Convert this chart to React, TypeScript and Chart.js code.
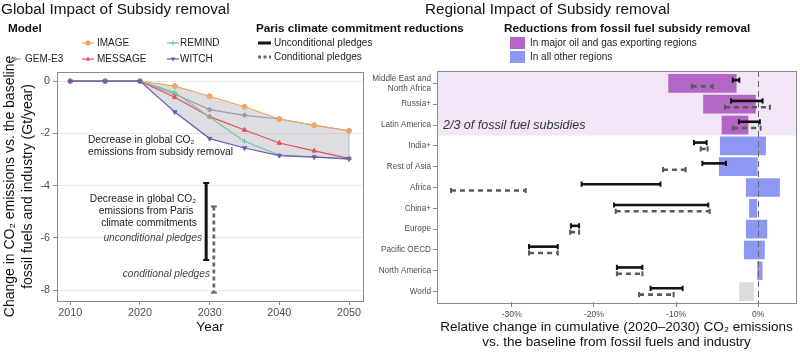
import React, { useEffect, useRef } from "react";
import { Chart, registerables } from "chart.js";
Chart.register(...registerables);

const FONT = "'Liberation Sans', Arial, Helvetica, sans-serif";

// ---------- Left panel data ----------
const years = [2010, 2015, 2020, 2025, 2030, 2035, 2040, 2045, 2050];
const gemE3 = [0, 0, 0, -0.5, -1.09, -1.31, -1.45, -1.69, -1.9];
const image = [0, 0, 0, -0.19, -0.58, -0.98, -1.45, -1.69, -1.9];
const message = [0, 0, 0, -0.62, -1.36, -1.87, -2.37, -2.67, -2.96];
const remind = [0, 0, 0, -0.43, -1.38, -2.3, -2.83, -2.9, -3.0];
const witch = [0, 0, 0, -1.18, -2.2, -2.56, -2.85, -2.91, -2.97];
const yearTicks = [2010, 2020, 2030, 2040, 2050];
const changeTicks = [0, -2, -4, -6, -8];
const pledgeYearUncond = 2029.5;
const pledgeUncond = [-3.9, -6.85];
const pledgeYearCond = 2030.6;
const pledgeCond = [-4.8, -8.1];

// ---------- Right panel data ----------
const regions = [
  ["Middle East and", "North Africa"],
  "Russia+",
  "Latin America",
  "India+",
  "Rest of Asia",
  "Africa",
  "China+",
  "Europe",
  "Pacific OECD",
  "North America",
  "World",
];
const regionGroup = ["oil", "oil", "oil", "other", "other", "other", "other", "other", "other", "other", "world"];
const subsidyLow = [-10.95, -6.7, -4.45, -4.66, -4.78, -1.5, -1.1, -1.5, -1.74, -0.12, -2.3];
const subsidyHigh = [-2.63, -0.3, -1.2, 0.94, 0, 2.64, -0.12, 1.1, 0.8, 0.53, -0.52];
const uncondLow = [-3.1, -3.3, -2.35, -7.82, -6.8, -21.5, -17.55, -22.8, -27.9, -17.2, -13.1];
const uncondHigh = [-2.3, 0.53, 0.2, -6.28, -3.93, -11.9, -6.08, -21.8, -24.4, -14.1, -9.2];
const condLow = [-8.1, -4.05, -3.05, -7.0, -11.6, -37.4, -17.35, -22.9, -27.9, -17.2, -14.5];
const condHigh = [-5.55, 1.42, 0.3, -6.16, -8.83, -28.3, -5.9, -21.8, -24.4, -14.1, -10.3];
const pctTicks = [-30, -20, -10, 0];

const PURPLE = "#b466c6";
const BLUE = "#8c98f4";
const GREYBAR = "#dcdcdc";
const BAND = "#f2e5f5";
const TICKCOL = "#4d4d4d";
const AXISCOL = "#8a8a8a";

const models = [
  { label: "GEM-E3", data: gemE3, color: "#a0a0a0", style: "rectRot", rot: 0, lx: 15, ly: 59 },
  { label: "IMAGE", data: image, color: "#f0a660", style: "circle", rot: 0, lx: 88, ly: 43 },
  { label: "MESSAGE", data: message, color: "#e4505a", style: "triangle", rot: 0, lx: 88, ly: 59 },
  { label: "REMIND", data: remind, color: "#74c4a6", style: "cross", rot: 0, lx: 173, ly: 43 },
  { label: "WITCH", data: witch, color: "#6a5db4", style: "triangle", rot: 180, lx: 173, ly: 59 },
];

function txt(ctx: CanvasRenderingContext2D, s: string, x: number, y: number, size: number, o: any = {}) {
  ctx.save();
  ctx.font = `${o.style || "normal"} ${o.weight || "normal"} ${size}px ${FONT}`;
  ctx.fillStyle = o.color || "#1a1a1a";
  ctx.textAlign = o.align || "left";
  ctx.textBaseline = "middle";
  ctx.fillText(s, x, y);
  ctx.restore();
}

function marker(ctx: CanvasRenderingContext2D, style: string, rot: number, x: number, y: number, r: number, color: string) {
  ctx.save();
  ctx.fillStyle = color;
  ctx.strokeStyle = color;
  ctx.lineWidth = 1;
  ctx.translate(x, y);
  ctx.rotate((rot * Math.PI) / 180);
  ctx.beginPath();
  if (style === "circle") {
    ctx.arc(0, 0, r, 0, Math.PI * 2);
    ctx.fill();
  } else if (style === "rectRot") {
    ctx.moveTo(0, -r);
    ctx.lineTo(r, 0);
    ctx.lineTo(0, r);
    ctx.lineTo(-r, 0);
    ctx.closePath();
    ctx.fill();
  } else if (style === "triangle") {
    ctx.moveTo(0, -r);
    ctx.lineTo(r * 0.9, r * 0.6);
    ctx.lineTo(-r * 0.9, r * 0.6);
    ctx.closePath();
    ctx.fill();
  } else if (style === "cross") {
    ctx.moveTo(-r, 0);
    ctx.lineTo(r, 0);
    ctx.moveTo(0, -r);
    ctx.lineTo(0, r);
    ctx.stroke();
  }
  ctx.restore();
}

function hline(ctx: CanvasRenderingContext2D, x1: number, x2: number, y: number, color: string, w: number, dash: number[] = []) {
  ctx.save();
  ctx.strokeStyle = color;
  ctx.lineWidth = w;
  ctx.setLineDash(dash);
  ctx.beginPath();
  ctx.moveTo(x1, y);
  ctx.lineTo(x2, y);
  ctx.stroke();
  ctx.restore();
}

const leftPlugin = {
  id: "leftDecor",
  afterDraw(chart: any) {
    const ctx = chart.ctx as CanvasRenderingContext2D;
    const a = chart.chartArea;
    const xs = chart.scales.x;
    const ys = chart.scales.y;
    // closing edge of the shaded envelope at 2050
    ctx.save();
    ctx.strokeStyle = "rgba(150,150,160,0.6)";
    ctx.lineWidth = 1;
    const x50 = xs.getPixelForValue(years[years.length - 1]);
    ctx.beginPath();
    ctx.moveTo(x50, ys.getPixelForValue(image[image.length - 1]));
    ctx.lineTo(x50, ys.getPixelForValue(witch[witch.length - 1]));
    ctx.stroke();
    ctx.restore();
    // plot border
    ctx.save();
    ctx.strokeStyle = AXISCOL;
    ctx.lineWidth = 1;
    ctx.strokeRect(Math.round(a.left) + 0.5, Math.round(a.top) + 0.5, Math.round(a.right - a.left), Math.round(a.bottom - a.top));
    ctx.restore();
    // annotations
    const an = 10.2;
    txt(ctx, "Decrease in global CO₂", 88, 140, an);
    txt(ctx, "emissions from subsidy removal", 88, 152, an);
    txt(ctx, "Decrease in global CO₂", 143, 199, an, { align: "center" });
    txt(ctx, "emissions from Paris", 146, 211, an, { align: "center" });
    txt(ctx, "climate commitments", 149, 223, an, { align: "center" });
    txt(ctx, "unconditional pledges", 202, 238, an, { align: "right", style: "italic", color: "#444" });
    txt(ctx, "conditional pledges", 210, 274, an, { align: "right", style: "italic", color: "#444" });
    // title
    txt(ctx, "Global Impact of Subsidy removal", 1, 10, 15.3, { color: "#111" });
    // model legend
    txt(ctx, "Model", 8, 29, 11.7, { weight: "bold", color: "#111" });
    models.forEach((m) => {
      hline(ctx, m.lx - 6, m.lx + 6, m.ly, m.color, 1.2);
      marker(ctx, m.style, m.rot, m.lx, m.ly, 2.6, m.color);
      txt(ctx, m.label, m.lx + (m.lx < 50 ? 10 : m.lx < 120 ? 9 : 7), m.ly, 10, { color: "#222" });
    });
    // paris legend
    txt(ctx, "Paris climate commitment reductions", 256, 29, 11.7, { weight: "bold", color: "#111" });
    hline(ctx, 258, 271, 43, "#111", 3);
    txt(ctx, "Unconditional pledges", 274, 43, 10, { color: "#222" });
    hline(ctx, 258, 271, 57, "#666", 3, [3, 2.5]);
    txt(ctx, "Conditional pledges", 274, 57, 10, { color: "#222" });
  },
};

const BOX_EXTRA_TOP = 2;
const BOX_EXTRA_BOTTOM = 1;

const rightPlugin = {
  id: "rightDecor",
  beforeDatasetsDraw(chart: any) {
    const ctx = chart.ctx as CanvasRenderingContext2D;
    const a = chart.chartArea;
    const ys = chart.scales.y;
    const boundary = (ys.getPixelForValue(2) + ys.getPixelForValue(3)) / 2;
    ctx.save();
    ctx.fillStyle = BAND;
    ctx.fillRect(a.left, a.top - BOX_EXTRA_TOP, a.right - a.left, boundary - a.top + BOX_EXTRA_TOP);
    ctx.restore();
    txt(ctx, "2/3 of fossil fuel subsidies", 443, ys.getPixelForValue(2), 12.5, { style: "italic", color: "#333" });
  },
  afterDatasetsDraw(chart: any) {
    const ctx = chart.ctx as CanvasRenderingContext2D;
    const a = chart.chartArea;
    const xs = chart.scales.x;
    const ys = chart.scales.y;
    const top = a.top - BOX_EXTRA_TOP;
    const bottom = a.bottom + BOX_EXTRA_BOTTOM;
    // zero line
    const x0 = Math.round(xs.getPixelForValue(0)) + 0.5;
    ctx.save();
    ctx.strokeStyle = "#666";
    ctx.lineWidth = 1;
    ctx.setLineDash([6, 4]);
    ctx.beginPath();
    ctx.moveTo(x0, top);
    ctx.lineTo(x0, bottom);
    ctx.stroke();
    ctx.restore();
    // error bars
    const drawBar = (lo: number, hi: number, y: number, color: string, dash: number[]) => {
      const x1 = xs.getPixelForValue(lo);
      const x2 = xs.getPixelForValue(hi);
      hline(ctx, x1, x2, y, color, 2.6, dash);
      ctx.save();
      ctx.strokeStyle = color;
      ctx.lineWidth = 2;
      ctx.beginPath();
      ctx.moveTo(x1, y - 2.6);
      ctx.lineTo(x1, y + 2.6);
      ctx.moveTo(x2, y - 2.6);
      ctx.lineTo(x2, y + 2.6);
      ctx.stroke();
      ctx.restore();
    };
    regions.forEach((_, i) => {
      const yc = ys.getPixelForValue(i);
      drawBar(uncondLow[i], uncondHigh[i], yc - 3.3, "#111", []);
      drawBar(condLow[i], condHigh[i], yc + 3, "#5a5a5a", [5, 4]);
    });
    // border
    ctx.save();
    ctx.strokeStyle = AXISCOL;
    ctx.lineWidth = 1;
    ctx.strokeRect(Math.round(a.left) + 0.5, Math.round(top) + 0.5, Math.round(a.right - a.left), Math.round(bottom - top));
    ctx.restore();
  },
  afterDraw(chart: any) {
    const ctx = chart.ctx as CanvasRenderingContext2D;
    txt(ctx, "Regional Impact of Subsidy removal", 425, 10, 15.3, { color: "#111" });
    txt(ctx, "Reductions from fossil fuel subsidy removal", 504, 29, 11.7, { weight: "bold", color: "#111" });
    ctx.save();
    ctx.fillStyle = PURPLE;
    ctx.fillRect(510, 37, 15, 12);
    ctx.fillStyle = BLUE;
    ctx.fillRect(510, 51, 15, 12);
    ctx.restore();
    txt(ctx, "In major oil and gas exporting regions", 530, 43, 10, { color: "#222" });
    txt(ctx, "In all other regions", 530, 57, 10, { color: "#222" });
  },
};

function leftConfig(): any {
  const imageIdx = 1;
  const witchIdx = 4;
  const lineSets = models.map((m, i) => ({
    type: "line",
    label: m.label,
    data: years.map((y, j) => ({ x: y, y: m.data[j] })),
    borderColor: m.color,
    backgroundColor: i === imageIdx ? "rgba(150,150,165,0.32)" : m.color,
    pointBackgroundColor: m.color,
    pointBorderColor: m.color,
    borderWidth: 1.2,
    pointStyle: m.style,
    pointRotation: m.rot,
    pointRadius: 2.5,
    pointBorderWidth: 1,
    fill: i === imageIdx ? { target: witchIdx } : false,
    order: 5 - i,
  }));
  const pledgeSets = [
    {
      type: "line",
      label: "Unconditional pledges",
      data: pledgeUncond.map((v) => ({ x: pledgeYearUncond, y: v })),
      borderColor: "#111",
      borderWidth: 3,
      pointStyle: "line",
      pointRadius: 3,
      pointBorderWidth: 2,
      pointBorderColor: "#111",
      fill: false,
      order: 0,
    },
    {
      type: "line",
      label: "Conditional pledges",
      data: pledgeCond.map((v) => ({ x: pledgeYearCond, y: v })),
      borderColor: "#6a6a6a",
      borderWidth: 2.8,
      borderDash: [4, 3],
      pointStyle: "line",
      pointRadius: 3,
      pointBorderWidth: 2,
      pointBorderColor: "#6a6a6a",
      fill: false,
      order: 0,
    },
  ];
  return {
    type: "line",
    data: { datasets: [...lineSets, ...pledgeSets] },
    options: {
      responsive: false,
      animation: false,
      devicePixelRatio: 1,
      layout: { padding: { left: 0, top: 72, right: 437, bottom: 0 } },
      plugins: { legend: { display: false }, tooltip: { enabled: false } },
      elements: { line: { tension: 0 } },
      scales: {
        x: {
          type: "linear",
          min: 2008.1,
          max: 2052,
          afterBuildTicks: (s: any) => {
            s.ticks = yearTicks.map((v) => ({ value: v }));
          },
          afterFit: (s: any) => {
            s.height = 51;
          },
          grid: { drawOnChartArea: false, tickLength: 4, color: AXISCOL },
          border: { display: false },
          ticks: { font: { family: FONT, size: 10.8 }, color: TICKCOL, padding: 2, maxRotation: 0, autoSkip: false, callback: (v: any) => String(v) },
          title: { display: true, text: "Year", color: "#111", font: { family: FONT, size: 13.5 }, padding: { top: 0, bottom: 17 } },
        },
        y: {
          type: "linear",
          min: -8.42,
          max: 0.35,
          afterBuildTicks: (s: any) => {
            s.ticks = changeTicks.map((v) => ({ value: v }));
          },
          afterFit: (s: any) => {
            s.width = 57;
          },
          grid: { color: "#ebebeb", tickColor: AXISCOL, tickLength: 4, lineWidth: 1 },
          border: { display: false },
          ticks: { font: { family: FONT, size: 10.8 }, color: TICKCOL, padding: 3, callback: (v: any) => String(v) },
          title: {
            display: true,
            text: ["Change in CO₂ emissions vs. the baseline", "fossil fuels and industry (Gt/year)"],
            color: "#111",
            font: { family: FONT, size: 14, lineHeight: 18 / 14 },
            padding: { top: 1, bottom: 0 },
          },
        },
      },
    },
    plugins: [leftPlugin],
  };
}

function rightConfig(): any {
  const colors = regionGroup.map((g) => (g === "oil" ? PURPLE : g === "other" ? BLUE : GREYBAR));
  return {
    type: "bar",
    data: {
      labels: regions,
      datasets: [
        {
          label: "Subsidy removal",
          data: regions.map((_, i) => [subsidyLow[i], subsidyHigh[i]]),
          backgroundColor: colors,
          borderWidth: 0,
          barPercentage: 0.9,
          categoryPercentage: 1,
        },
      ],
    },
    options: {
      indexAxis: "y",
      responsive: false,
      animation: false,
      devicePixelRatio: 1,
      layout: { padding: { left: 362, top: 73, right: 4, bottom: 0 } },
      plugins: { legend: { display: false }, tooltip: { enabled: false } },
      scales: {
        x: {
          type: "linear",
          min: -39.1,
          max: 4.6,
          afterBuildTicks: (s: any) => {
            s.ticks = pctTicks.map((v) => ({ value: v }));
          },
          afterFit: (s: any) => {
            s.height = 50;
          },
          grid: { drawOnChartArea: false, tickLength: 5, color: AXISCOL },
          border: { display: false },
          ticks: { font: { family: FONT, size: 8.6 }, color: TICKCOL, padding: 2, maxRotation: 0, autoSkip: false, callback: (v: any) => `${v}%` },
          title: {
            display: true,
            text: ["Relative change in cumulative (2020–2030) CO₂ emissions", "vs. the baseline from fossil fuels and industry"],
            color: "#111",
            font: { family: FONT, size: 13.5, lineHeight: 1.05 },
            padding: { top: 0, bottom: 3 },
          },
        },
        y: {
          type: "category",
          offset: true,
          afterFit: (s: any) => {
            s.width = 75;
          },
          grid: { drawOnChartArea: false, tickLength: 4, color: AXISCOL, offset: false },
          border: { display: false },
          ticks: { font: { family: FONT, size: 8.2, lineHeight: 1.2 }, color: TICKCOL, padding: 2, autoSkip: false },
        },
      },
    },
    plugins: [rightPlugin],
  };
}

export default function App() {
  const leftRef = useRef<HTMLCanvasElement>(null);
  const rightRef = useRef<HTMLCanvasElement>(null);
  useEffect(() => {
    const c1 = new Chart(leftRef.current as HTMLCanvasElement, leftConfig());
    const c2 = new Chart(rightRef.current as HTMLCanvasElement, rightConfig());
    return () => {
      c1.destroy();
      c2.destroy();
    };
  }, []);
  const cs: React.CSSProperties = { position: "absolute", left: 0, top: 0, width: 800, height: 352 };
  return (
    <div style={{ position: "absolute", left: 0, top: 0, width: 800, height: 352, background: "#fff", overflow: "hidden" }}>
      <canvas ref={leftRef} width={800} height={352} style={cs} />
      <canvas ref={rightRef} width={800} height={352} style={cs} />
    </div>
  );
}
